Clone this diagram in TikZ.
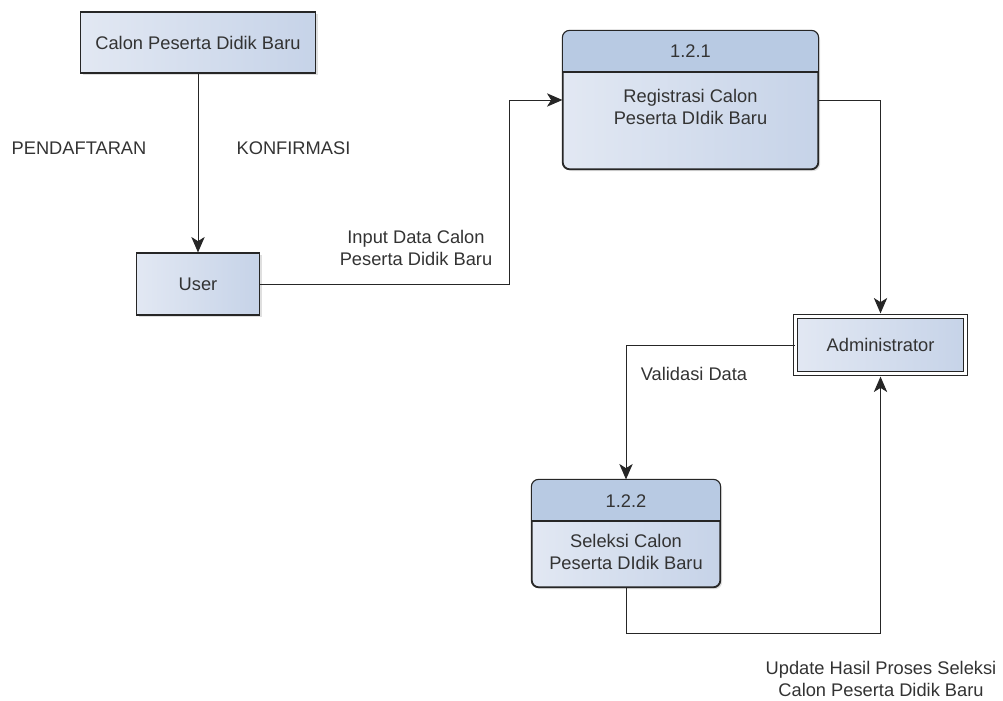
\documentclass[tikz,border=0pt]{standalone}
\usepackage{fontspec}
\setmainfont{Liberation Sans}
\usepackage{tikz}
\usetikzlibrary{arrows.meta,shadows}

\definecolor{boxA}{HTML}{E2E8F3}
\definecolor{boxB}{HTML}{C6D3E8}
\definecolor{headfill}{HTML}{B8CAE3}
\definecolor{ink}{HTML}{333333}

\begin{document}
\begin{tikzpicture}[x=0.025cm,y=-0.025cm,
    lbl/.style={text=ink,font=\fontsize{13}{15}\selectfont,align=center,inner sep=0pt},
    ent/.style={lbl,draw=black!85,line width=0.8pt,left color=boxA,right color=boxB,
      drop shadow={shadow xshift=1.5pt,shadow yshift=-1.5pt,opacity=0.25}},
    proc/.style={ent,rounded corners=5pt},
    flow/.style={line width=0.7pt,black!85,-{Stealth[length=11pt,width=9.5pt,inset=3pt]}}]
    \useasboundingbox (0,0) rectangle (1003,701);

    % terminators
    \node[ent,minimum width=5.875cm,minimum height=1.525cm] (calon) at (198,42.5) {Calon Peserta Didik Baru};
    \node[ent,minimum width=3.075cm,minimum height=1.55cm] (user) at (198,284) {User};
    \node[ent,double=white,double distance=2.2pt,minimum width=4.25cm,minimum height=1.425cm] (admin) at (880.5,345) {Administrator};

    % processes
    \node[proc,minimum width=6.375cm,minimum height=3.45cm] (reg) at (690.5,100) {};
    \node[proc,minimum width=4.7cm,minimum height=2.675cm] (sel) at (626,533.5) {};
    \coordinate (regdiv) at (563,72);
    \coordinate (seldiv) at (532,521);
    \foreach \p/\d in {reg/regdiv,sel/seldiv} {
      \begin{scope}
        \clip[rounded corners=5pt] (\p.north west) rectangle (\p.south east);
        \fill[headfill] (\p.north west) rectangle (\p.east |- \d);
      \end{scope}
      \draw[black!85,line width=0.8pt] (\p.west |- \d) -- (\p.east |- \d);
      \draw[black!85,line width=0.8pt,rounded corners=5pt] (\p.north west) rectangle (\p.south east);
    }
    \node[lbl] (regid) at (690.5,51.5) {1.2.1};
    \node[lbl] (regname) at (690.5,107) {Registrasi Calon\\ Peserta DIdik Baru};
    \node[lbl] (selid) at (626,501) {1.2.2};
    \node[lbl] (selname) at (626,552) {Seleksi Calon\\Peserta DIdik Baru};

    % flows
    \coordinate (inx) at (509,0);
    \coordinate (bot) at (0,633);
    \draw[flow] (calon.south) -- (user.north);
    \draw[flow] (user.east) -- (user.east -| inx) -- (reg.west -| inx) -- (reg.west);
    \draw[flow,shorten >=1.8pt] (reg.east) -| (admin.north);
    \draw[flow] (admin.west) -| (sel.north);
    \draw[flow,shorten >=1.8pt] (sel.south) -- (sel.south |- bot) -| (admin.south);

    % flow labels
    \node[lbl] (daftar) at (79,148) {PENDAFTARAN};
    \node[lbl] (konfirm) at (293.5,148) {KONFIRMASI};
    \node[lbl] (input) at (416,248) {Input Data Calon\\Peserta Didik Baru};
    \node[lbl] (valid) at (694,374) {Validasi Data};
    \node[lbl] (update) at (881,679) {Update Hasil Proses Seleksi\\Calon Peserta Didik Baru};
  \end{tikzpicture}
\end{document}
